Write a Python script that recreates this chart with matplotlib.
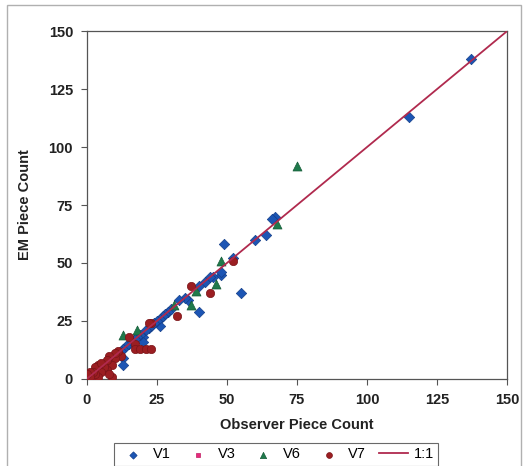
import matplotlib.pyplot as plt
from matplotlib.patches import Rectangle

# observer vs EM piece counts per video
v1_x = [137, 115, 67, 66, 64, 60, 55, 52, 49, 48, 48, 45, 44, 42, 40, 40, 36, 35, 33, 30,
        29, 28, 27, 26, 26, 25, 24, 23, 22, 21, 20, 20, 19, 18, 17, 16, 15, 14, 13, 13,
        13, 12, 11, 10, 9, 8, 7, 6, 5, 4, 3, 2, 1]
v1_y = [138, 113, 70, 69, 62, 60, 37, 52, 58, 45, 46, 44, 44, 42, 40, 29, 34, 35, 34, 30,
        29, 28, 27, 26, 23, 25, 24, 23, 22, 21, 18, 16, 19, 18, 17, 16, 15, 14, 13, 9,
        6, 12, 11, 10, 9, 8, 7, 6, 5, 4, 3, 2, 1]

v3_x = [0, 1, 1, 2, 3, 4, 5, 6, 0, 2]
v3_y = [0, 1, 0, 2, 3, 5, 4, 6, 1, 1]

v6_x = [75, 68, 48, 46, 39, 37, 31, 18, 13, 6, 3]
v6_y = [92, 67, 51, 41, 38, 32, 32, 21, 19, 7, 4]

v7_x = [52, 44, 37, 32, 23, 22, 15, 17, 17, 19, 21, 23, 12, 11, 10, 10, 9, 9, 8, 7,
        7, 6, 5, 4, 4, 3, 3, 2, 1, 1, 0, 8, 5]
v7_y = [51, 37, 40, 27, 24, 24, 18, 15, 13, 13, 13, 13, 10, 12, 9, 11, 6, 1, 10, 8,
        4, 5, 3, 6, 1, 5, 2, 3, 3, 1, 2, 2, 7]

line_x = [0, 150]
line_y = [0, 150]

ticks = [0, 25, 50, 75, 100, 125, 150]

plt.rcParams['font.family'] = ['Liberation Sans', 'DejaVu Sans']

fig = plt.figure(figsize=(5.27, 4.66), dpi=100)
ax = fig.add_axes([0.165, 0.187, 0.797, 0.746])

ax.scatter(v1_x, v1_y, marker='D', s=28, color='#1c55b4', edgecolors='#143f8a',
           linewidths=0.5, label='V1', zorder=3)
ax.scatter(v3_x, v3_y, marker='s', s=26, color='#e62a7c', edgecolors='#c01e63',
           linewidths=0.5, label='V3', zorder=3)
ax.scatter(v6_x, v6_y, marker='^', s=42, color='#1f7a4c', edgecolors='#155c37',
           linewidths=0.5, label='V6', zorder=3)
ax.scatter(v7_x, v7_y, marker='o', s=36, color='#9b1e22', edgecolors='#7a1418',
           linewidths=0.5, label='V7', zorder=3)
ax.plot(line_x, line_y, color='#b02a4e', linewidth=1.3, label='1:1', zorder=4)

ax.set_xlim(0, 150)
ax.set_ylim(0, 150)
ax.set_xticks(ticks)
ax.set_yticks(ticks)
ax.tick_params(direction='out', length=4, width=0.8, color='#555555',
               labelsize=10.5, pad=6)
for lab in ax.get_xticklabels() + ax.get_yticklabels():
    lab.set_fontweight('bold')
    lab.set_color('#222222')
for sp in ax.spines.values():
    sp.set_color('#555555')
    sp.set_linewidth(0.9)

ax.set_xlabel('Observer Piece Count', fontsize=10.5, fontweight='bold',
              color='#222222', labelpad=8)
ax.set_ylabel('EM Piece Count', fontsize=10.5, fontweight='bold',
              color='#222222', labelpad=12)

leg = fig.legend(loc='upper center', bbox_to_anchor=(276 / 527, 1 - 443 / 466), ncol=5,
                 fontsize=10.5, frameon=True, fancybox=False, edgecolor='#444444',
                 handlelength=2.0, handletextpad=0.35, columnspacing=0.9,
                 borderpad=0.3, borderaxespad=0, scatterpoints=1, markerscale=0.7)
leg.get_frame().set_linewidth(0.8)

# outer chart-area border (bottom edge is cut off in the original)
fig.patches.append(Rectangle((7 / 527, -0.05), 514 / 527, 1.05 - 5 / 466,
                             transform=fig.transFigure, fill=False,
                             edgecolor='#b0b0b0', linewidth=1.0))

fig.savefig('out.png', dpi=100)
